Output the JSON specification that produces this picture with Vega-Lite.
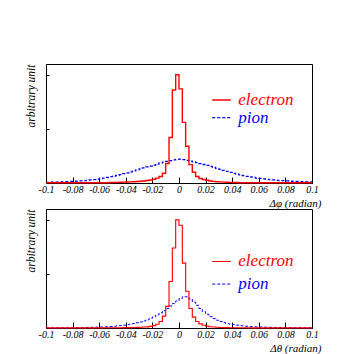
{
  "$schema": "https://vega.github.io/schema/vega-lite/v6.json",
  "background": "white",
  "padding": {"left": 24, "top": 63, "right": 5, "bottom": 0},
  "spacing": -3,
  "config": {
    "view": {"stroke": "black", "strokeWidth": 1},
    "font": "Liberation Serif",
    "axis": {
      "domainColor": "black",
      "tickColor": "black",
      "labelColor": "black",
      "titleColor": "black",
      "labelFont": "Liberation Serif",
      "titleFont": "Liberation Serif",
      "labelFontStyle": "italic",
      "titleFontStyle": "italic",
      "titleFontWeight": "normal",
      "grid": false
    },
    "axisX": {
      "titleFontSize": 11, "titleAnchor": "end", "titleAlign": "right", "titleX": 275, "titlePadding": 3,
      "values": [-0.1,-0.095,-0.09,-0.085,-0.08,-0.075,-0.07,-0.065,-0.06,-0.055,-0.05,-0.045,-0.04,-0.035,-0.03,-0.025,-0.02,-0.015,-0.01,-0.005,0,0.005,0.01,0.015,0.02,0.025,0.03,0.035,0.04,0.045,0.05,0.055,0.06,0.065,0.07,0.075,0.08,0.085,0.09,0.095,0.1],
      "labelExpr": "abs(datum.value/0.02 - round(datum.value/0.02)) < 0.01 ? '' + round(datum.value*100)/100 : ''",
      "labelFontSize": 10, "labelOverlap": false, "labelFlush": false, "labelPadding": 7,
      "tickSize": {"condition": {"test": "abs(datum.value/0.02 - round(datum.value/0.02)) < 0.01", "value": -6}, "value": -3}
    },
    "axisY": {
      "titleFontSize": 11.5, "titleAnchor": "end", "titlePadding": 9,
      "labels": false, "tickSize": -3,
      "values": [0,0.05,0.1,0.15,0.2,0.25,0.3,0.35,0.4,0.45,0.5,0.55,0.6,0.65,0.7,0.75,0.8,0.85,0.9,0.95,1,1.05,1.1]
    }
  },
  "datasets": {
    "hist": [
      {"x": -0.1, "ePhi": 0.002, "pPhi": 0.006, "eTh": 0.001, "pTh": 0.001},
      {"x": -0.0975, "ePhi": 0.002, "pPhi": 0.007, "eTh": 0.001, "pTh": 0.001},
      {"x": -0.095, "ePhi": 0.002, "pPhi": 0.008, "eTh": 0.001, "pTh": 0.001},
      {"x": -0.0925, "ePhi": 0.002, "pPhi": 0.009, "eTh": 0.001, "pTh": 0.001},
      {"x": -0.09, "ePhi": 0.002, "pPhi": 0.010, "eTh": 0.001, "pTh": 0.002},
      {"x": -0.0875, "ePhi": 0.002, "pPhi": 0.011, "eTh": 0.001, "pTh": 0.002},
      {"x": -0.085, "ePhi": 0.002, "pPhi": 0.012, "eTh": 0.001, "pTh": 0.002},
      {"x": -0.0825, "ePhi": 0.002, "pPhi": 0.014, "eTh": 0.001, "pTh": 0.002},
      {"x": -0.08, "ePhi": 0.002, "pPhi": 0.016, "eTh": 0.001, "pTh": 0.003},
      {"x": -0.0775, "ePhi": 0.002, "pPhi": 0.018, "eTh": 0.001, "pTh": 0.003},
      {"x": -0.075, "ePhi": 0.002, "pPhi": 0.020, "eTh": 0.001, "pTh": 0.003},
      {"x": -0.0725, "ePhi": 0.002, "pPhi": 0.022, "eTh": 0.001, "pTh": 0.004},
      {"x": -0.07, "ePhi": 0.002, "pPhi": 0.025, "eTh": 0.001, "pTh": 0.005},
      {"x": -0.0675, "ePhi": 0.003, "pPhi": 0.028, "eTh": 0.001, "pTh": 0.006},
      {"x": -0.065, "ePhi": 0.003, "pPhi": 0.032, "eTh": 0.001, "pTh": 0.007},
      {"x": -0.0625, "ePhi": 0.003, "pPhi": 0.036, "eTh": 0.001, "pTh": 0.008},
      {"x": -0.06, "ePhi": 0.003, "pPhi": 0.041, "eTh": 0.001, "pTh": 0.009},
      {"x": -0.0575, "ePhi": 0.003, "pPhi": 0.046, "eTh": 0.002, "pTh": 0.010},
      {"x": -0.055, "ePhi": 0.003, "pPhi": 0.052, "eTh": 0.002, "pTh": 0.012},
      {"x": -0.0525, "ePhi": 0.004, "pPhi": 0.058, "eTh": 0.002, "pTh": 0.014},
      {"x": -0.05, "ePhi": 0.005, "pPhi": 0.064, "eTh": 0.002, "pTh": 0.016},
      {"x": -0.0475, "ePhi": 0.006, "pPhi": 0.071, "eTh": 0.002, "pTh": 0.019},
      {"x": -0.045, "ePhi": 0.007, "pPhi": 0.078, "eTh": 0.002, "pTh": 0.022},
      {"x": -0.0425, "ePhi": 0.008, "pPhi": 0.086, "eTh": 0.003, "pTh": 0.026},
      {"x": -0.04, "ePhi": 0.009, "pPhi": 0.094, "eTh": 0.003, "pTh": 0.030},
      {"x": -0.0375, "ePhi": 0.010, "pPhi": 0.103, "eTh": 0.004, "pTh": 0.035},
      {"x": -0.035, "ePhi": 0.012, "pPhi": 0.112, "eTh": 0.005, "pTh": 0.041},
      {"x": -0.0325, "ePhi": 0.014, "pPhi": 0.121, "eTh": 0.006, "pTh": 0.048},
      {"x": -0.03, "ePhi": 0.016, "pPhi": 0.130, "eTh": 0.007, "pTh": 0.056},
      {"x": -0.0275, "ePhi": 0.019, "pPhi": 0.139, "eTh": 0.009, "pTh": 0.065},
      {"x": -0.025, "ePhi": 0.023, "pPhi": 0.148, "eTh": 0.011, "pTh": 0.076},
      {"x": -0.0225, "ePhi": 0.028, "pPhi": 0.157, "eTh": 0.015, "pTh": 0.089},
      {"x": -0.02, "ePhi": 0.035, "pPhi": 0.166, "eTh": 0.022, "pTh": 0.104},
      {"x": -0.0175, "ePhi": 0.045, "pPhi": 0.175, "eTh": 0.035, "pTh": 0.121},
      {"x": -0.015, "ePhi": 0.060, "pPhi": 0.185, "eTh": 0.060, "pTh": 0.140},
      {"x": -0.0125, "ePhi": 0.090, "pPhi": 0.193, "eTh": 0.110, "pTh": 0.160},
      {"x": -0.01, "ePhi": 0.180, "pPhi": 0.200, "eTh": 0.200, "pTh": 0.181},
      {"x": -0.0075, "ePhi": 0.420, "pPhi": 0.207, "eTh": 0.430, "pTh": 0.203},
      {"x": -0.005, "ePhi": 0.860, "pPhi": 0.213, "eTh": 0.740, "pTh": 0.226},
      {"x": -0.0025, "ePhi": 1.000, "pPhi": 0.218, "eTh": 1.000, "pTh": 0.250},
      {"x": 0, "ePhi": 0.870, "pPhi": 0.220, "eTh": 0.950, "pTh": 0.272},
      {"x": 0.0025, "ePhi": 0.560, "pPhi": 0.216, "eTh": 0.600, "pTh": 0.290},
      {"x": 0.005, "ePhi": 0.340, "pPhi": 0.210, "eTh": 0.340, "pTh": 0.288},
      {"x": 0.0075, "ePhi": 0.170, "pPhi": 0.203, "eTh": 0.180, "pTh": 0.268},
      {"x": 0.01, "ePhi": 0.100, "pPhi": 0.196, "eTh": 0.100, "pTh": 0.240},
      {"x": 0.0125, "ePhi": 0.060, "pPhi": 0.188, "eTh": 0.060, "pTh": 0.210},
      {"x": 0.015, "ePhi": 0.042, "pPhi": 0.180, "eTh": 0.038, "pTh": 0.180},
      {"x": 0.0175, "ePhi": 0.032, "pPhi": 0.171, "eTh": 0.025, "pTh": 0.152},
      {"x": 0.02, "ePhi": 0.025, "pPhi": 0.162, "eTh": 0.017, "pTh": 0.127},
      {"x": 0.0225, "ePhi": 0.019, "pPhi": 0.153, "eTh": 0.012, "pTh": 0.105},
      {"x": 0.025, "ePhi": 0.015, "pPhi": 0.144, "eTh": 0.009, "pTh": 0.087},
      {"x": 0.0275, "ePhi": 0.012, "pPhi": 0.135, "eTh": 0.007, "pTh": 0.072},
      {"x": 0.03, "ePhi": 0.010, "pPhi": 0.126, "eTh": 0.005, "pTh": 0.060},
      {"x": 0.0325, "ePhi": 0.008, "pPhi": 0.117, "eTh": 0.004, "pTh": 0.050},
      {"x": 0.035, "ePhi": 0.007, "pPhi": 0.108, "eTh": 0.003, "pTh": 0.042},
      {"x": 0.0375, "ePhi": 0.006, "pPhi": 0.099, "eTh": 0.002, "pTh": 0.036},
      {"x": 0.04, "ePhi": 0.005, "pPhi": 0.090, "eTh": 0.002, "pTh": 0.031},
      {"x": 0.0425, "ePhi": 0.004, "pPhi": 0.082, "eTh": 0.002, "pTh": 0.026},
      {"x": 0.045, "ePhi": 0.003, "pPhi": 0.075, "eTh": 0.002, "pTh": 0.022},
      {"x": 0.0475, "ePhi": 0.003, "pPhi": 0.068, "eTh": 0.002, "pTh": 0.019},
      {"x": 0.05, "ePhi": 0.003, "pPhi": 0.062, "eTh": 0.002, "pTh": 0.016},
      {"x": 0.0525, "ePhi": 0.003, "pPhi": 0.056, "eTh": 0.001, "pTh": 0.014},
      {"x": 0.055, "ePhi": 0.003, "pPhi": 0.051, "eTh": 0.001, "pTh": 0.012},
      {"x": 0.0575, "ePhi": 0.003, "pPhi": 0.046, "eTh": 0.001, "pTh": 0.010},
      {"x": 0.06, "ePhi": 0.003, "pPhi": 0.042, "eTh": 0.001, "pTh": 0.009},
      {"x": 0.0625, "ePhi": 0.002, "pPhi": 0.038, "eTh": 0.001, "pTh": 0.008},
      {"x": 0.065, "ePhi": 0.002, "pPhi": 0.034, "eTh": 0.001, "pTh": 0.007},
      {"x": 0.0675, "ePhi": 0.002, "pPhi": 0.031, "eTh": 0.001, "pTh": 0.006},
      {"x": 0.07, "ePhi": 0.002, "pPhi": 0.028, "eTh": 0.001, "pTh": 0.005},
      {"x": 0.0725, "ePhi": 0.002, "pPhi": 0.025, "eTh": 0.001, "pTh": 0.005},
      {"x": 0.075, "ePhi": 0.002, "pPhi": 0.023, "eTh": 0.001, "pTh": 0.004},
      {"x": 0.0775, "ePhi": 0.002, "pPhi": 0.021, "eTh": 0.001, "pTh": 0.004},
      {"x": 0.08, "ePhi": 0.002, "pPhi": 0.019, "eTh": 0.001, "pTh": 0.003},
      {"x": 0.0825, "ePhi": 0.002, "pPhi": 0.017, "eTh": 0.001, "pTh": 0.003},
      {"x": 0.085, "ePhi": 0.002, "pPhi": 0.015, "eTh": 0.001, "pTh": 0.003},
      {"x": 0.0875, "ePhi": 0.002, "pPhi": 0.014, "eTh": 0.001, "pTh": 0.002},
      {"x": 0.09, "ePhi": 0.002, "pPhi": 0.013, "eTh": 0.001, "pTh": 0.002},
      {"x": 0.0925, "ePhi": 0.002, "pPhi": 0.012, "eTh": 0.001, "pTh": 0.002},
      {"x": 0.095, "ePhi": 0.002, "pPhi": 0.011, "eTh": 0.001, "pTh": 0.002},
      {"x": 0.0975, "ePhi": 0.002, "pPhi": 0.010, "eTh": 0.001, "pTh": 0.002},
      {"x": 0.1, "ePhi": 0.002, "pPhi": 0.010, "eTh": 0.001, "pTh": 0.002}
    ],
    "legend": [
      {"panel": "phi", "series": "ePhi", "label": "electron", "x": 0.025, "x2": 0.039, "tx": 0.0446, "y": 0.767},
      {"panel": "phi", "series": "pPhi", "label": "pion", "x": 0.025, "x2": 0.039, "tx": 0.0446, "y": 0.604},
      {"panel": "theta", "series": "eTh", "label": "electron", "x": 0.025, "x2": 0.039, "tx": 0.0446, "y": 0.615},
      {"panel": "theta", "series": "pTh", "label": "pion", "x": 0.025, "x2": 0.039, "tx": 0.0446, "y": 0.406}
    ]
  },
  "vconcat": [
    {
      "width": 266,
      "height": 119,
      "layer": [
        {
          "data": {"name": "hist"},
          "transform": [{"fold": ["pPhi", "ePhi"], "as": ["series", "y"]}],
          "mark": {"type": "line", "interpolate": "step-after"},
          "encoding": {
            "x": {"field": "x", "type": "quantitative",
              "scale": {"domain": [-0.1, 0.1], "nice": false, "zero": false},
              "axis": {"title": "Δφ (radian)"}},
            "y": {"field": "y", "type": "quantitative",
              "scale": {"domain": [0, 1.1], "nice": false},
              "axis": {"title": "arbitrary unit"}},
            "color": {"field": "series", "type": "nominal", "legend": null,
              "scale": {"domain": ["ePhi", "pPhi", "eTh", "pTh"], "range": ["#ff0000", "#0000ff", "#ff0000", "#0000ff"]}},
            "strokeDash": {"field": "series", "type": "nominal", "legend": null,
              "scale": {"domain": ["ePhi", "pPhi", "eTh", "pTh"], "range": [[1, 0], [3, 2], [1, 0], [3, 2]]}},
            "strokeWidth": {"field": "series", "type": "nominal", "legend": null,
              "scale": {"domain": ["ePhi", "pPhi", "eTh", "pTh"], "range": [1.4, 1, 1.4, 1]}}
          }
        },
        {
          "data": {"name": "legend"},
          "transform": [{"filter": "datum.panel === 'phi'"}],
          "mark": {"type": "rule"},
          "encoding": {
            "x": {"field": "x", "type": "quantitative", "axis": {"title": "Δφ (radian)"}},
            "x2": {"field": "x2"},
            "y": {"field": "y", "type": "quantitative", "axis": {"title": "arbitrary unit"}},
            "color": {"field": "series", "type": "nominal", "legend": null},
            "strokeDash": {"field": "series", "type": "nominal", "legend": null},
            "strokeWidth": {"field": "series", "type": "nominal", "legend": null}
          }
        },
        {
          "data": {"name": "legend"},
          "transform": [{"filter": "datum.panel === 'phi'"}],
          "mark": {"type": "text", "align": "left", "baseline": "middle", "font": "Liberation Serif", "fontStyle": "italic", "fontSize": 17},
          "encoding": {
            "x": {"field": "tx", "type": "quantitative", "axis": {"title": "Δφ (radian)"}},
            "y": {"field": "y", "type": "quantitative", "axis": {"title": "arbitrary unit"}},
            "text": {"field": "label"},
            "color": {"field": "series", "type": "nominal", "legend": null}
          }
        }
      ]
    },
    {
      "width": 266,
      "height": 119,
      "layer": [
        {
          "data": {"name": "hist"},
          "transform": [{"fold": ["pTh", "eTh"], "as": ["series", "y"]}],
          "mark": {"type": "line", "interpolate": "step-after"},
          "encoding": {
            "x": {"field": "x", "type": "quantitative",
              "scale": {"domain": [-0.1, 0.1], "nice": false, "zero": false},
              "axis": {"title": "Δθ (radian)"}},
            "y": {"field": "y", "type": "quantitative",
              "scale": {"domain": [0, 1.1], "nice": false},
              "axis": {"title": "arbitrary unit"}},
            "color": {"field": "series", "type": "nominal", "legend": null,
              "scale": {"domain": ["ePhi", "pPhi", "eTh", "pTh"], "range": ["#ff0000", "#0000ff", "#ff0000", "#0000ff"]}},
            "strokeDash": {"field": "series", "type": "nominal", "legend": null,
              "scale": {"domain": ["ePhi", "pPhi", "eTh", "pTh"], "range": [[1, 0], [3, 2], [1, 0], [3, 2]]}},
            "strokeWidth": {"field": "series", "type": "nominal", "legend": null,
              "scale": {"domain": ["ePhi", "pPhi", "eTh", "pTh"], "range": [1.4, 1, 1.4, 1]}}
          }
        },
        {
          "data": {"name": "legend"},
          "transform": [{"filter": "datum.panel === 'theta'"}],
          "mark": {"type": "rule"},
          "encoding": {
            "x": {"field": "x", "type": "quantitative", "axis": {"title": "Δθ (radian)"}},
            "x2": {"field": "x2"},
            "y": {"field": "y", "type": "quantitative", "axis": {"title": "arbitrary unit"}},
            "color": {"field": "series", "type": "nominal", "legend": null},
            "strokeDash": {"field": "series", "type": "nominal", "legend": null},
            "strokeWidth": {"field": "series", "type": "nominal", "legend": null}
          }
        },
        {
          "data": {"name": "legend"},
          "transform": [{"filter": "datum.panel === 'theta'"}],
          "mark": {"type": "text", "align": "left", "baseline": "middle", "font": "Liberation Serif", "fontStyle": "italic", "fontSize": 17},
          "encoding": {
            "x": {"field": "tx", "type": "quantitative", "axis": {"title": "Δθ (radian)"}},
            "y": {"field": "y", "type": "quantitative", "axis": {"title": "arbitrary unit"}},
            "text": {"field": "label"},
            "color": {"field": "series", "type": "nominal", "legend": null}
          }
        }
      ]
    }
  ]
}
